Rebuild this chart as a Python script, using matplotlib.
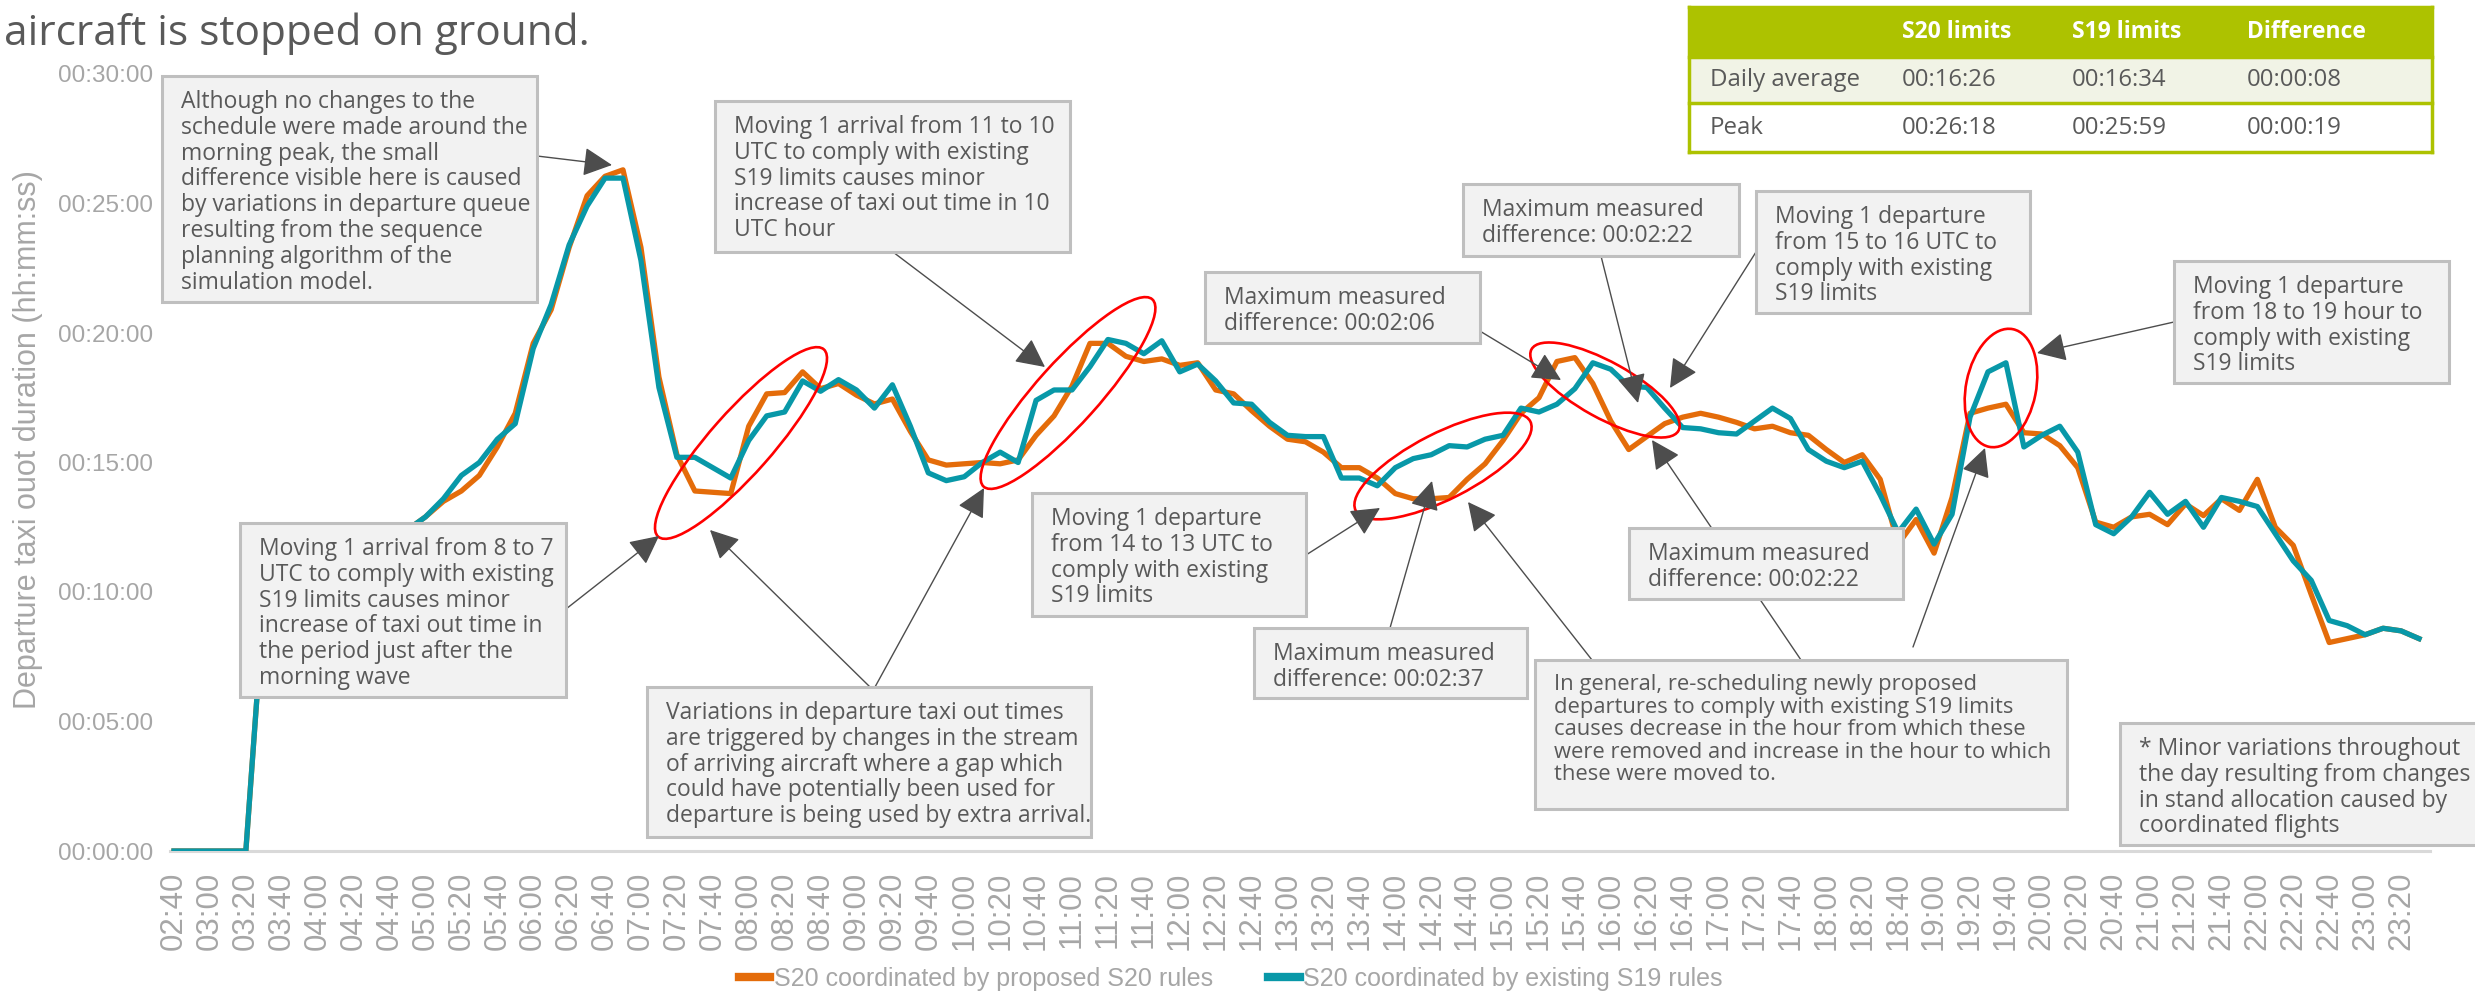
import matplotlib
matplotlib.use("Agg")
import matplotlib.pyplot as plt
from matplotlib import font_manager as fm
from matplotlib.patches import Rectangle, Ellipse, FancyArrowPatch
from matplotlib.transforms import Affine2D
from matplotlib.ticker import FixedLocator, FuncFormatter

# ---------------- data (minutes of taxi-out, 10-minute slots from 02:40) ----------------
start_minutes = 160  # 02:40
slot = 10
s20_rules = [0, 0, 0, 0, 0, 9.6, 10.0, 10.3, 10.6, 11.0, 11.3, 11.6, 12.0, 12.4, 12.9,
             13.5, 13.9, 14.5, 15.6, 16.9, 19.6, 20.9, 23.3, 25.3, 26.05, 26.3, 23.3, 18.3, 15.3, 13.9,
             13.85, 13.8, 16.4, 17.65, 17.7, 18.5, 17.85, 18.05, 17.6, 17.26, 17.45, 16.2, 15.1, 14.9, 14.95,
             15.0, 14.95, 15.1, 16.05, 16.8, 17.95, 19.6, 19.6, 19.1, 18.9, 19.0, 18.75, 18.85, 17.8, 17.65,
             17.0, 16.4, 15.9, 15.8, 15.4, 14.8, 14.8, 14.4, 13.8, 13.6, 13.6, 13.65, 14.35, 14.95, 15.85,
             16.9, 17.5, 18.9, 19.05, 18.05, 16.6, 15.5, 16.0, 16.5, 16.75, 16.9, 16.75, 16.55, 16.3, 16.4,
             16.15, 16.05, 15.5, 15.0, 15.3, 14.35, 11.85, 12.8, 11.5, 13.65, 16.9, 17.1, 17.25, 16.15, 16.1,
             15.65, 14.8, 12.7, 12.5, 12.9, 13.0, 12.6, 13.4, 12.95, 13.6, 13.15, 14.35, 12.5, 11.8, 9.9,
             8.05, 8.2, 8.35, 8.6, 8.5, 8.2]
s19_rules = [0, 0, 0, 0, 0, 9.6, 10.0, 10.3, 10.6, 11.0, 11.3, 11.6, 12.0, 12.4, 12.9,
             13.6, 14.5, 15.0, 15.9, 16.5, 19.4, 21.1, 23.4, 24.9, 25.98, 25.98, 22.8, 17.9, 15.2, 15.2,
             14.8, 14.4, 15.85, 16.8, 16.95, 18.15, 17.75, 18.2, 17.8, 17.1, 18.0, 16.4, 14.6, 14.3, 14.45,
             15.0, 15.4, 15.0, 17.4, 17.8, 17.8, 18.7, 19.75, 19.6, 19.2, 19.7, 18.5, 18.8, 18.15, 17.3,
             17.25, 16.55, 16.05, 16.0, 16.0, 14.4, 14.4, 14.1, 14.8, 15.15, 15.3, 15.65, 15.6, 15.9, 16.05,
             17.1, 16.95, 17.25, 17.85, 18.85, 18.6, 17.95, 17.9, 17.1, 16.35, 16.3, 16.15, 16.1, 16.6, 17.1,
             16.7, 15.5, 15.05, 14.8, 15.05, 13.75, 12.3, 13.2, 11.85, 13.0, 16.75, 18.5, 18.85, 15.6, 16.05,
             16.4, 15.4, 12.6, 12.25, 12.9, 13.85, 13.0, 13.5, 12.5, 13.65, 13.5, 13.3, 12.25, 11.2, 10.45,
             8.9, 8.7, 8.35, 8.6, 8.5, 8.2]
series_names = ["S20 coordinated by proposed S20 rules", "S20 coordinated by existing S19 rules"]
categories = ["%02d:%02d" % divmod(start_minutes + slot * i, 60) for i in range(len(s20_rules))]
y_ticks = [0, 5, 10, 15, 20, 25, 30]

table_cols = ["", "S20 limits", "S19 limits", "Difference"]
table_rows = [["Daily average", "00:16:26", "00:16:34", "00:00:08"],
              ["Peak", "00:26:18", "00:25:59", "00:00:19"]]

# ---------------- fonts / colours ----------------
names = {f.name for f in fm.fontManager.ttflist}
NARROW = "Liberation Sans Narrow" if "Liberation Sans Narrow" in names else "Liberation Sans"
SANS = "Liberation Sans"
BOXF = "Open Sans"
ORANGE = "#E46C0A"
TEAL = "#0898A8"
GREY_TXT = "#A6A6A6"
DARK = "#595959"

W, H = 2475, 992
fig = plt.figure(figsize=(W / 100, H / 100), dpi=100)
T = Affine2D().scale(1 / 100) + fig.dpi_scale_trans  # pixel coords (bottom-left origin)

def P(x, y):
    return (x, H - y)

# ---------------- axes ----------------
x0px, x1px, ytop, ybot = 170, 2430, 74, 851
ax = fig.add_axes([x0px / W, 1 - ybot / H, (x1px - x0px) / W, (ybot - ytop) / H])
step = (2419 - 174) / 125
ax.set_xlim(-(174 - x0px) / step, (x1px - 174) / step)
ax.set_ylim(0, 30)
xs = list(range(len(categories)))
l1, = ax.plot(xs, s20_rules, color=ORANGE, lw=3.8, label=series_names[0], zorder=3)
l2, = ax.plot(xs, s19_rules, color=TEAL, lw=3.8, label=series_names[1], zorder=4)

for s in ["top", "right", "left"]:
    ax.spines[s].set_visible(False)
ax.spines["bottom"].set_color("#D9D9D9")
ax.spines["bottom"].set_linewidth(2.2)
ax.spines["bottom"].set_zorder(1)
ax.xaxis.set_major_locator(FixedLocator(xs[::2]))
ax.set_xticklabels(categories[::2], rotation=90, fontsize=22.5, color=GREY_TXT, family=SANS)
ax.set_yticks(y_ticks)
ax.yaxis.set_major_formatter(FuncFormatter(lambda v, p: "00:%02d:00" % int(v)))
for lab in ax.get_yticklabels():
    lab.set_fontsize(17.5)
    lab.set_color(GREY_TXT)
    lab.set_family(NARROW)
ax.tick_params(axis="x", length=0, pad=15)
ax.tick_params(axis="y", length=0, pad=12)
ax.patch.set_alpha(0)

fig.text(*P(28, 440), "Departure taxi ouot duration (hh:mm:ss)", transform=T, rotation=90,
         ha="center", va="center", fontsize=22, color=GREY_TXT, family=SANS)

leg = fig.legend(handles=[l1, l2], loc="center", bbox_to_anchor=P(1231, 979),
                 bbox_transform=T, ncol=2, frameon=False, handlelength=1.25,
                 handletextpad=0.15, columnspacing=2.2,
                 prop={"family": NARROW, "size": 18})
for t in leg.get_texts():
    t.set_color(GREY_TXT)
for h in leg.legend_handles:
    h.set_linewidth(6)

# title fragment
fig.text(*P(4, 45), "aircraft is stopped on ground.", transform=T, ha="left", va="baseline",
         fontsize=30.5, color=DARK, family=BOXF)

# ---------------- table ----------------
tx0, tx1 = 1689, 2432
row_edges = [7, 57, 103, 152]
row_colors = ["#ADC200", "#F1F3E6", "#FFFFFF"]
col_x = [1710, 1902, 2072, 2247]
for r in range(3):
    fig.patches.append(Rectangle(P(tx0, row_edges[r + 1]), tx1 - tx0, row_edges[r + 1] - row_edges[r],
                                 transform=T, facecolor=row_colors[r], edgecolor="none", zorder=1))
for yy in row_edges:
    fig.lines.append(plt.Line2D([tx0, tx1], [H - yy, H - yy], transform=T, color="#ADC200", lw=2.5))
for xx in (tx0, tx1):
    fig.lines.append(plt.Line2D([xx, xx], [H - row_edges[0], H - row_edges[-1]], transform=T,
                                color="#ADC200", lw=2.5))
for c, txt in enumerate(table_cols):
    if txt:
        fig.text(*P(col_x[c], 32), txt, transform=T, ha="left", va="center", fontsize=16.5,
                 color="white", weight="bold", family=BOXF)
for r, row in enumerate(table_rows):
    yc = (row_edges[r + 1] + row_edges[r + 2]) / 2
    for c, txt in enumerate(row):
        fig.text(*P(col_x[c], yc), txt, transform=T, ha="left", va="center", fontsize=17.3,
                 color=DARK, family=BOXF)

# ---------------- annotations ----------------
boxes = [
    ((162, 76, 537, 302), "Although no changes to the\nschedule were made around the\nmorning peak, the small\ndifference visible here is caused\nby variations in departure queue\nresulting from the sequence\nplanning algorithm of the\nsimulation model."),
    ((715, 101, 1070, 252), "Moving 1 arrival from 11 to 10\nUTC to comply with existing\nS19 limits causes minor\nincrease of taxi out time in 10\nUTC hour"),
    ((1205, 272, 1480, 343), "Maximum measured\ndifference: 00:02:06"),
    ((1463, 184, 1739, 256), "Maximum measured\ndifference: 00:02:22"),
    ((1756, 191, 2030, 313), "Moving 1 departure\nfrom 15 to 16 UTC to\ncomply with existing\nS19 limits"),
    ((2174, 261, 2449, 383), "Moving 1 departure\nfrom 18 to 19 hour to\ncomply with existing\nS19 limits"),
    ((240, 523, 566, 697), "Moving 1 arrival from 8 to 7\nUTC to comply with existing\nS19 limits causes minor\nincrease of taxi out time in\nthe period just after the\nmorning wave"),
    ((647, 687, 1091, 837), "Variations in departure taxi out times\nare triggered by changes in the stream\nof arriving aircraft where a gap which\ncould have potentially been used for\ndeparture is being used by extra arrival."),
    ((1032, 493, 1306, 616), "Moving 1 departure\nfrom 14 to 13 UTC to\ncomply with existing\nS19 limits"),
    ((1254, 628, 1527, 698), "Maximum measured\ndifference: 00:02:37"),
    ((1629, 528, 1903, 599), "Maximum measured\ndifference: 00:02:22"),
    ((1535, 660, 2067, 809), "In general, re-scheduling newly proposed\ndepartures to comply with existing S19 limits\ncauses decrease in the hour from which these\nwere removed and increase in the hour to which\nthese were moved to."),
    ((2120, 723, 2485, 845), "* Minor variations throughout\nthe day resulting from changes\nin stand allocation caused by\ncoordinated flights"),
]
box_font = [16.5] * len(boxes)
box_font[11] = 15.8
arrows = [((537, 156), (612, 165)), ((893, 252), (1045, 367)), ((1455, 316), (1561, 380)),
          ((1601, 256), (1638, 403)), ((1756, 252), (1670, 388)), ((2174, 322), (2037, 353)),
          ((566, 609), (659, 536)), ((870, 687), (710, 530)), ((875, 687), (984, 488)),
          ((1306, 555), (1380, 508)), ((1390, 628), (1432, 481)), ((1592, 660), (1468, 502)),
          ((1801, 660), (1652, 440)), ((1913, 647), (1985, 448))]
ellipses = [((741, 443), 250, 62, 48.5), ((1068, 393), 252, 62, 48), ((1443, 466), 196, 66, 27),
            ((1605, 390), 168, 56, -29), ((2001, 388), 120, 70, 78.6)]

for (cx, cy), w, h, ang in ellipses:
    fig.patches.append(Ellipse(P(cx, cy), w, h, angle=ang, transform=T, fill=False,
                               edgecolor="#FF0000", lw=1.9, zorder=5))
for (a, b) in arrows:
    fig.patches.append(FancyArrowPatch(P(*a), P(*b), transform=T, arrowstyle="-|>,head_length=0.9,head_width=0.45",
                                       mutation_scale=20, color="#4D4D4D", lw=1.0, shrinkA=0, shrinkB=0, zorder=6))
for ((bx0, by0, bx1, by1), txt), fs in zip(boxes, box_font):
    fig.patches.append(Rectangle(P(bx0, by1), bx1 - bx0, by1 - by0, transform=T, facecolor="#F2F2F2",
                                 edgecolor="#BFBFBF", lw=2.2, zorder=7))
    fig.text(*P(bx0 + 19, by0 + 14), txt, transform=T, ha="left", va="top", fontsize=fs,
             color=DARK, family=BOXF, linespacing=1.1, zorder=8)

fig.savefig("out.png", dpi=100)
